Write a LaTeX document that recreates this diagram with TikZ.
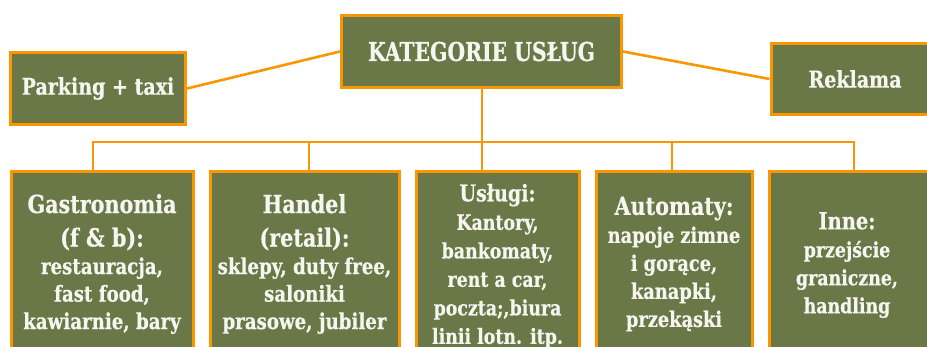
\documentclass[tikz,border=0pt]{standalone}
\usepackage{fontspec}
\setmainfont{DejaVu Serif Condensed}[FakeStretch=0.92, BoldFeatures={FakeBold=0.5}]
\newfontfamily\titlefont{DejaVu Serif Condensed}[FakeStretch=0.87, BoldFeatures={FakeBold=0.5}]
\definecolor{og}{RGB}{249,150,0}
\definecolor{ol}{RGB}{106,120,71}
\definecolor{tx}{RGB}{246,246,240}
\begin{document}
\begin{tikzpicture}[x=1pt,y=-1pt,
  box/.style={draw=og, line width=3pt, fill=ol, inner sep=0pt},
  lbl/.style={text=tx, font=\bfseries, align=center, inner sep=0pt},
  link/.style={draw=og, line width=2pt},
  slant/.style={draw=og, line width=2.6pt}]
\useasboundingbox (0,0) rectangle (927,347);
\clip (0,0) rectangle (927,347);
% top row
\node[box, minimum width=280, minimum height=72] (kat) at (481.5,51.5) {};
\node[lbl, font=\titlefont\bfseries\fontsize{26}{30}\selectfont] (katt) at (kat.center) {KATEGORIE USŁUG};
\node[box, minimum width=175, minimum height=72] (park) at (98,88.5) {};
\node[lbl, font=\bfseries\fontsize{23}{27}\selectfont] (parkt) at (park.center) {Parking + taxi};
\node[box, minimum width=168, minimum height=71] (rek) at (855,79) {};
\node[lbl, font=\bfseries\fontsize{23}{27}\selectfont] (rekt) at (rek.center) {Reklama};
% bottom row
\node[box, anchor=north, minimum width=182, minimum height=192] (gas) at (102,170) {};
\node[box, anchor=north, minimum width=189, minimum height=192] (han) at (304.5,170) {};
\node[box, anchor=north, minimum width=163, minimum height=192] (usl) at (497.5,170) {};
\node[box, anchor=north, minimum width=156, minimum height=192] (aut) at (674,170) {};
\node[box, anchor=north, minimum width=170, minimum height=192] (inn) at (854,170) {};
\node[lbl, font=\bfseries\fontsize{22}{27.5}\selectfont] (gast) at (102,264)
  {{\fontsize{25}{30}\selectfont Gastronomia}\\[6pt]{\fontsize{25}{30}\selectfont (f \& b):}\\restauracja,\\fast food,\\kawiarnie, bary};
\node[lbl, font=\bfseries\fontsize{22}{27.5}\selectfont] (hant) at (304.5,264)
  {{\fontsize{25}{30}\selectfont Handel}\\[6pt]{\fontsize{25}{30}\selectfont (retail):}\\sklepy, duty free,\\saloniki\\prasowe, jubiler};
\node[lbl, font=\bfseries\fontsize{21}{28.5}\selectfont] (uslt) at (497.5,266)
  {{\fontsize{23}{28.5}\selectfont Usługi:}\\Kantory,\\bankomaty,\\rent a car,\\poczta;,biura\\linii lotn. itp.};
\node[lbl, font=\bfseries\fontsize{21.5}{28}\selectfont] (autt) at (674,264)
  {{\fontsize{25}{28}\selectfont Automaty:}\\napoje zimne\\i gorące,\\kanapki,\\przekąski};
\node[lbl, font=\bfseries\fontsize{21}{28}\selectfont] (innt) at (847,265)
  {{\fontsize{23.5}{28}\selectfont Inne:}\\przejście\\graniczne,\\handling};
% connectors
\draw[slant] (park.east) -- (kat.west);
\draw[slant] (kat.east) -- (rek.west);
\coordinate (b1) at (93,142);
\coordinate (b2) at (309,142);
\coordinate (b3) at (482,142);
\coordinate (b4) at (672,142);
\coordinate (b5) at (854,142);
\draw[link] (b1 |- gas.north) -- (b1) -- (b5) -- (b5 |- inn.north);
\draw[link] (b2) -- (b2 |- han.north);
\draw[link] (b3 |- kat.south) -- (b3 |- usl.north);
\draw[link] (b4) -- (b4 |- aut.north);
\end{tikzpicture}
\end{document}
